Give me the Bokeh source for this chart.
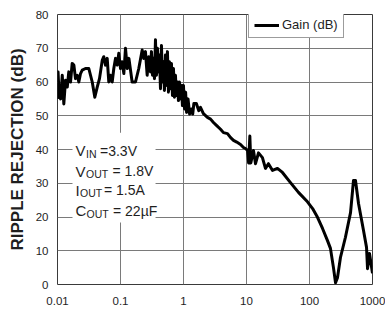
from bokeh.plotting import figure
from bokeh.models import FixedTicker, Label, BoxAnnotation, Legend, LegendItem
from bokeh.embed import file_html
from bokeh.resources import INLINE

# ---- data ----
freq_khz = [0.0100, 0.0102, 0.0105, 0.0112, 0.0119, 0.0126, 0.0134, 0.0143, 0.0151, 0.0161,
            0.0171, 0.0182, 0.0193, 0.0206, 0.0218, 0.0232, 0.0247, 0.0278, 0.0314, 0.0356,
            0.0391, 0.0427, 0.0464, 0.0513, 0.0543, 0.0578, 0.0615, 0.0652, 0.0693, 0.0738,
            0.0783, 0.0833, 0.0887, 0.0940, 0.100, 0.106, 0.113, 0.120, 0.128, 0.136,
            0.153, 0.173, 0.195, 0.221, 0.234, 0.249, 0.265, 0.281,
            0.299, 0.310, 0.322, 0.334, 0.346, 0.359, 0.372, 0.386, 0.400, 0.415,
            0.431, 0.447, 0.463, 0.481, 0.498, 0.517, 0.536, 0.556, 0.577, 0.598,
            0.621, 0.644, 0.668, 0.693, 0.718, 0.745, 0.773, 0.802, 0.831, 0.862,
            0.894, 0.928, 0.962, 0.998,
            1.04, 1.08, 1.12, 1.18, 1.25, 1.33, 1.40, 1.46, 1.60,
            1.75, 1.86, 2.07, 2.40, 2.69, 2.99, 3.40, 3.87, 4.31, 4.99,
            5.60, 6.22, 7.00, 8.04, 8.96, 9.64, 10.4, 10.8, 11.3, 11.7,
            12.9, 13.9, 15.5, 17.9, 20.0, 22.3, 25.9, 31.0, 37.2, 49.9,
            66.8, 92.9, 112, 134, 161, 193, 215, 240, 259, 278,
            310, 372, 448, 499, 537, 600, 720, 804, 834, 896, 1000]
gain_db = [55, 63, 58, 55, 62, 53.5, 60.5, 58.5, 63, 60,
           65.5, 65, 61, 62, 60, 62.5, 63.5, 64, 64, 60,
           55.5, 58.5, 61, 66.4, 67.5, 65, 67, 60, 62, 60,
           64, 67, 65, 68.5, 64, 66, 62.5, 70, 64, 67,
           60, 60, 64, 69.5, 67, 69, 62, 67.5,
           63, 69, 62, 67, 61, 72.5, 62, 70, 63, 68,
           58, 70.8, 60, 66, 57.5, 68, 59, 69, 57, 66,
           58, 65.5, 56, 64, 55.5, 62, 56, 60, 54.5, 60,
           55, 59, 53, 59,
           52, 57, 51, 55, 50.5, 52, 50.5, 53.6, 53.6,
           51.5, 52.5, 50.6, 49.5, 49, 48, 47, 46, 45, 44.7,
           43.5, 42.7, 42.2, 41.5, 40.6, 40.3, 39.7, 36, 44, 36,
           39.7, 35.8, 39, 37.6, 34.4, 35.8, 33.8, 34.4, 33.2, 30.2,
           27.3, 24.5, 22.5, 19.9, 16.6, 13, 10.7, 5, 0.5, 2,
           8, 14, 21.3, 30.8, 30.8, 24, 16, 11, 4.7, 9.2, 3.3]

x_ticks = [0.01, 0.1, 1, 10, 100, 1000]
x_tick_labels = ["0.01", "0.1", "1", "10", "100", "1000"]
y_ticks = [0, 10, 20, 30, 40, 50, 60, 70, 80]

series_label = "Gain (dB)"
y_title = "RIPPLE REJECTION (dB)"
cond_main = ["V", "V", "I", "C"]
cond_sub = ["IN", "OUT", "OUT", "OUT"]
cond_rest = ["=3.3V", "= 1.8V", "= 1.5A", "= 22\u00b5F"]

FONT = "Liberation Sans"
TXT = "#1e1e1e"

p = figure(width=385, height=309, x_axis_type="log",
           x_range=(0.01, 1000), y_range=(0, 80),
           output_backend="svg", toolbar_location=None,
           min_border_left=57, min_border_top=14,
           min_border_right=13, min_border_bottom=25)
p.background_fill_color = "white"
p.border_fill_color = "white"
p.outline_line_color = "#3a3a3a"
p.outline_line_width = 1

for ax in (p.xaxis, p.yaxis):
    ax.axis_line_color = None
    ax.major_tick_line_color = None
    ax.minor_tick_line_color = None
    ax.major_tick_out = 0
    ax.major_tick_in = 0
    ax.major_label_text_font = FONT
    ax.major_label_text_font_size = "11.5px"
    ax.major_label_text_color = TXT

p.xaxis.ticker = FixedTicker(ticks=x_ticks)
p.xaxis.major_label_overrides = {t: s for t, s in zip(x_ticks, x_tick_labels)}
p.xaxis.major_label_standoff = 12
p.yaxis.ticker = FixedTicker(ticks=y_ticks)
p.yaxis.major_label_standoff = 9

p.yaxis.axis_label = y_title
p.yaxis.axis_label_text_font = FONT
p.yaxis.axis_label_text_font_style = "bold"
p.yaxis.axis_label_text_font_size = "17px"
p.yaxis.axis_label_text_color = TXT
p.yaxis.axis_label_standoff = 6

for g in (p.xgrid, p.ygrid):
    g.grid_line_color = "#7a7a7a"
    g.grid_line_width = 1
p.xgrid.ticker = FixedTicker(ticks=x_ticks)
p.ygrid.ticker = FixedTicker(ticks=y_ticks)

r = p.line(freq_khz, gain_db, line_color="black", line_width=3, line_join="round")

# white box behind conditions text
p.add_layout(BoxAnnotation(left=0.0173, right=0.36, bottom=18.4, top=45,
                           fill_color="white", fill_alpha=1, line_color=None))

baselines = [39.7, 33.6, 27.9, 21.9]
sub_off = [10.5, 10.5, 4.5, 11]
rest_off = [24.5, 37, 28.5, 37.5]
for i in range(4):
    p.add_layout(Label(x=0.0193, y=baselines[i], text=cond_main[i],
                       text_font=FONT, text_font_size="15px", text_color=TXT,
                       text_baseline="alphabetic"))
    p.add_layout(Label(x=0.0193, y=baselines[i], text=cond_sub[i], x_offset=sub_off[i],
                       y_offset=-3, text_font=FONT, text_font_size="10.5px",
                       text_color=TXT, text_baseline="alphabetic"))
    p.add_layout(Label(x=0.0193, y=baselines[i], text=cond_rest[i], x_offset=rest_off[i],
                       text_font=FONT, text_font_size="14px", text_color=TXT,
                       text_baseline="alphabetic"))

legend = Legend(items=[LegendItem(label=series_label, renderers=[r])],
                location=(191, 246), padding=5, margin=0, spacing=0,
                glyph_width=25, glyph_height=12, label_height=12, label_standoff=3,
                label_text_font=FONT, label_text_font_size="13px", label_text_color=TXT,
                border_line_color="#3a3a3a", border_line_width=1,
                background_fill_color="white", background_fill_alpha=1)
p.add_layout(legend)

open("out.html", "w").write(file_html(p, INLINE))
